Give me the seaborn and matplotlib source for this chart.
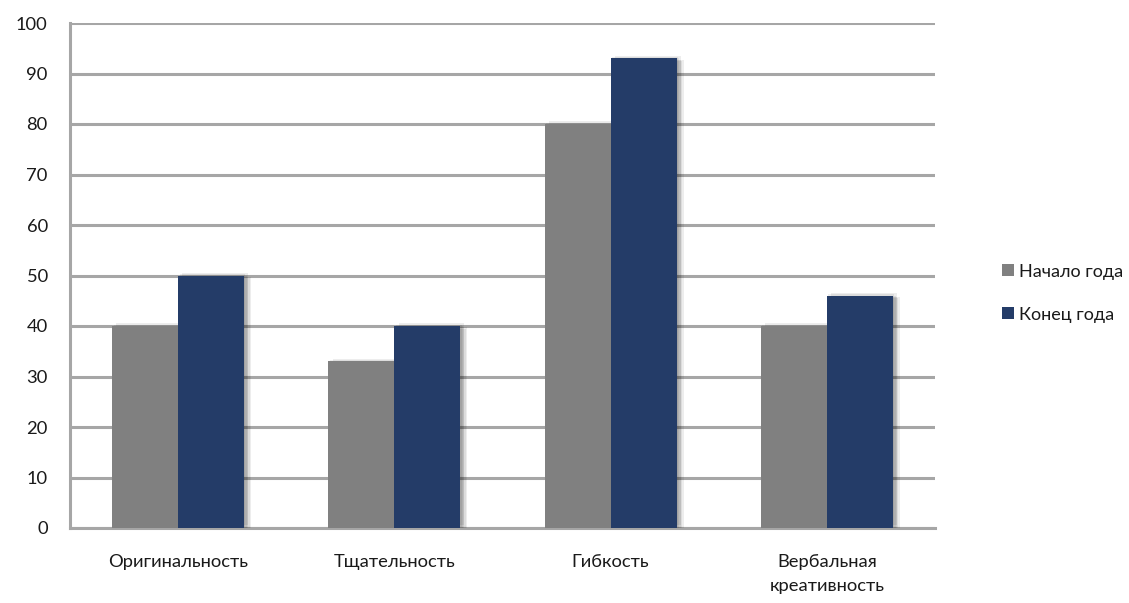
import pandas as pd
import matplotlib
matplotlib.use('Agg')
import matplotlib.pyplot as plt
import matplotlib.patheffects as pe
import seaborn as sns

sns.set_style('white')
plt.rcParams['font.family'] = ['Lato', 'DejaVu Sans']

categories = ['Оригинальность', 'Тщательность', 'Гибкость', 'Вербальная\nкреативность']
start_year = [40, 33, 80, 40]
end_year = [50, 40, 93, 46]
series_names = ['Начало года', 'Конец года']
colors = ['#808080', '#243C68']

df = pd.DataFrame({
    'category': categories * 2,
    'value': start_year + end_year,
    'series': [series_names[0]] * len(categories) + [series_names[1]] * len(categories),
})

fig = plt.figure(figsize=(11.29, 6.03), dpi=100)
ax = fig.add_axes([70 / 1129, 1 - 528 / 603, 865 / 1129, 505 / 603])

sns.barplot(data=df, x='category', y='value', hue='series', palette=colors,
            width=0.61, gap=0, saturation=1, linewidth=0, ax=ax, zorder=3,
            legend=True)

# soft blurred-looking shadow, built from a few faint offset copies
shadow = [pe.SimplePatchShadow(offset=(dx, dy), shadow_rgbFace='black', alpha=0.07)
          for dx, dy in [(1, 1), (2, 0), (3, -1), (4, -2), (5, -1), (3, 2)]]
for patch in ax.patches:
    patch.set_path_effects(shadow + [pe.Normal()])

ax.set_ylim(0, 100)
ax.set_yticks(range(0, 101, 10))
ax.yaxis.grid(True, color='#A6A6A6', linewidth=2.2, zorder=0)
ax.set_axisbelow(True)
for side in ['top', 'right']:
    ax.spines[side].set_visible(False)
for side in ['left', 'bottom']:
    ax.spines[side].set_color('#A6A6A6')
    ax.spines[side].set_linewidth(2.2)

ax.tick_params(axis='both', length=0, labelsize=13.2, colors='#1a1a1a')
ax.tick_params(axis='y', pad=16)
ax.tick_params(axis='x', pad=19)
for lbl in ax.get_xticklabels():
    lbl.set_linespacing(1.6)
ax.set_xlabel('')
ax.set_ylabel('')

leg = ax.legend(loc='center left', bbox_to_anchor=(1.067, 0.465), frameon=False,
                fontsize=13, handlelength=0.65, handleheight=0.65,
                handletextpad=0.3, labelspacing=1.5, borderpad=0)
for h in leg.legend_handles:
    h.set_path_effects([])
for t in leg.get_texts():
    t.set_color('#1a1a1a')

fig.savefig('out.png', dpi=100)
